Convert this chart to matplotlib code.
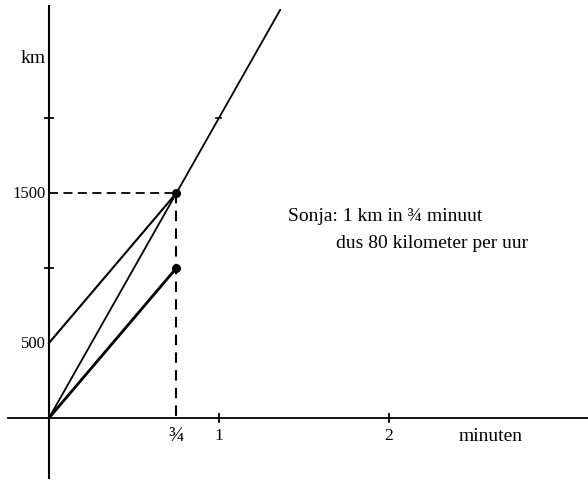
import matplotlib.pyplot as plt

plt.rcParams['font.family'] = ['Liberation Serif', 'DejaVu Serif']

# gegevens (minuten, km)
steil_x = [0, 1.36]
steil_y = [0, 2720]
boven_x = [0, 0.75]
boven_y = [500, 1500]
onder_x = [0, 0.75]
onder_y = [0, 1000]
punten_x = [0.75, 0.75]
punten_y = [1500, 1000]
y_ticks = [1000, 2000]
x_ticks = [1, 2]
x_labels = [(0.75, '¾', 15), (1, '1', 12.5), (2, '2', 12.5)]
y_labels = [(500, '500'), (1500, '1500')]

fig = plt.figure(figsize=(5.88, 4.81), dpi=100)
ax = fig.add_axes([0, 0, 1, 1])
ax.set_xlim(-0.288, 3.171)
ax.set_ylim(-413, 2793)
ax.axis('off')

# assen
ax.plot([-0.24, 3.171], [0, 0], color='black', lw=1.3)
ax.plot([0, 0], [-400, 2745], color='black', lw=1.5)

# streepjes op de assen
for t in y_ticks:
    ax.plot([-0.025, 0.025], [t, t], color='black', lw=1.3)
for t in x_ticks:
    ax.plot([t, t], [-25, 25], color='black', lw=1.3)
# streepje op de lijn bij 1 minuut
ax.plot([0.985, 1.015], [2000, 2000], color='black', lw=1.2)

# lijnen
ax.plot(steil_x, steil_y, color='black', lw=1.3)
ax.plot(boven_x, boven_y, color='black', lw=1.5)
ax.plot(onder_x, onder_y, color='black', lw=2.0)
ax.plot(punten_x, punten_y, 'o', color='black', ms=5.5)

# stippellijnen
ax.plot([0, 0.75], [1500, 1500], color='black', lw=1.3, dashes=(5, 3))
ax.plot([0.75, 0.75], [1500, 0], color='black', lw=1.5, dashes=(5, 3.5))

# labels
for x, s, fs in x_labels:
    ax.text(x, -115, s, ha='center', va='center', fontsize=fs)
ax.text(2.41, -115, 'minuten', ha='left', va='center', fontsize=14)
for y, s in y_labels:
    ax.text(-0.02, y, s, ha='right', va='center', fontsize=12)
ax.text(-0.02, 2400, 'km', ha='right', va='center', fontsize=14)

ax.text(1.405, 1350, 'Sonja: 1 km in ¾ minuut', ha='left', va='center', fontsize=14)
ax.text(1.69, 1170, 'dus 80 kilometer per uur', ha='left', va='center', fontsize=14)

fig.savefig('out.png', dpi=100)
